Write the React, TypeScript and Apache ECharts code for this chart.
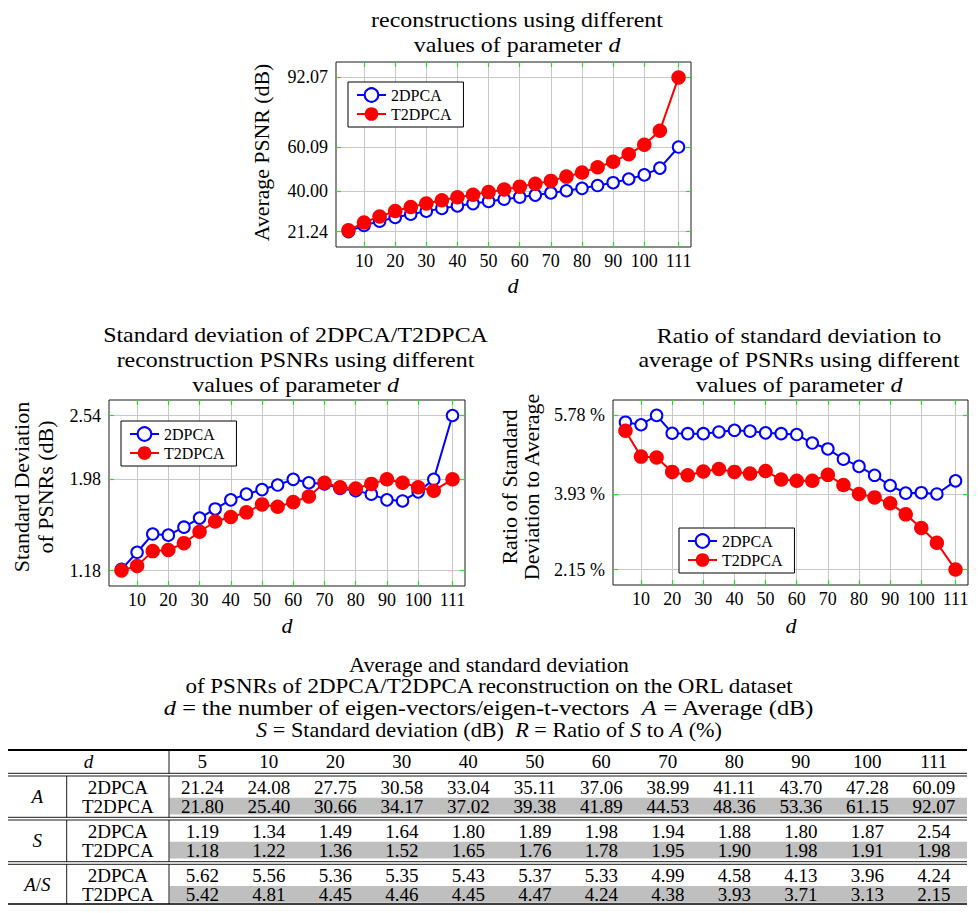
import React, { useEffect, useRef } from 'react';
import * as echarts from 'echarts';

// ---------------- data ----------------
const dValues = [5, 10, 15, 20, 25, 30, 35, 40, 45, 50, 55, 60, 65, 70, 75, 80, 85, 90, 95, 100, 105, 111];
const xTickValues = [10, 20, 30, 40, 50, 60, 70, 80, 90, 100, 111];
const seriesNames = ['2DPCA', 'T2DPCA'];

const avg2DPCA = [21.24, 24.08, 26.0, 27.75, 29.2, 30.58, 31.9, 33.04, 34.1, 35.11, 36.1, 37.06, 38.0, 38.99, 40.0, 41.11, 42.4, 43.70, 45.4, 47.28, 50.4, 60.09];
const avgT2DPCA = [21.80, 25.40, 28.2, 30.66, 32.5, 34.17, 35.6, 37.02, 38.2, 39.38, 40.6, 41.89, 43.2, 44.53, 46.5, 48.36, 50.8, 53.36, 56.8, 61.15, 67.6, 92.07];
const avgTicks = [21.24, 40.0, 60.09, 92.07];

const std2DPCA = [1.19, 1.34, 1.50, 1.49, 1.56, 1.64, 1.72, 1.80, 1.85, 1.89, 1.93, 1.98, 1.95, 1.94, 1.90, 1.88, 1.85, 1.80, 1.79, 1.87, 1.98, 2.54];
const stdT2DPCA = [1.18, 1.22, 1.35, 1.36, 1.42, 1.52, 1.61, 1.65, 1.69, 1.76, 1.74, 1.78, 1.83, 1.95, 1.91, 1.90, 1.94, 1.98, 1.95, 1.91, 1.88, 1.98];
const stdTicks = [1.18, 1.98, 2.54];

const ratio2DPCA = [5.62, 5.56, 5.78, 5.36, 5.35, 5.35, 5.39, 5.43, 5.41, 5.37, 5.35, 5.33, 5.13, 4.99, 4.75, 4.58, 4.37, 4.13, 3.95, 3.96, 3.93, 4.24];
const ratioT2DPCA = [5.42, 4.81, 4.79, 4.45, 4.37, 4.46, 4.52, 4.45, 4.41, 4.47, 4.27, 4.24, 4.24, 4.38, 4.14, 3.93, 3.85, 3.71, 3.45, 3.13, 2.78, 2.15];
const ratioTicks = [2.15, 3.93, 5.78];

const tableD = [5, 10, 20, 30, 40, 50, 60, 70, 80, 90, 100, 111];

const titleAvg = ['reconstructions using different', '{n|values of parameter }{i|d}'];
const titleStd = ['Standard deviation of 2DPCA/T2DPCA', 'reconstruction PSNRs using different', '{n|values of parameter }{i|d}'];
const titleRatio = ['Ratio of standard deviation to', 'average of PSNRs using different', '{n|values of parameter }{i|d}'];
const yNameAvg = 'Average PSNR (dB)';
const yNameStd = 'Standard Deviation\nof PSNRs (dB)';
const yNameRatio = 'Ratio of Standard\nDeviation to Average';
const captionLines = [
  'Average and standard deviation',
  'of PSNRs of 2DPCA/T2DPCA reconstruction on the ORL dataset',
  '{i|d}{n| = the number of eigen-vectors/eigen-t-vectors  }{i|A}{n| = Average (dB)}',
  '{i|S}{n| = Standard deviation (dB)  }{i|R}{n| = Ratio of }{i|S}{n| to }{i|A}{n| (%)}',
];

// ---------------- style ----------------
const FONT = "'Liberation Serif', 'Times New Roman', serif";
const GREEN = '#1ee61e';
const GRIDC = '#c8c8c8';
const BLUE = '#0000ff';
const RED = '#ff0000';
const CAPTION_SCALE = [1.11, 1.15, 1.22, 1.11];

function gText(text: string, x: number, y: number, size: number, o: any = {}) {
  const base = { fontFamily: FONT, fontSize: size, fill: '#000', lineHeight: o.lh };
  return {
    type: 'text',
    x,
    y,
    scaleX: o.sx ?? 1,
    rotation: o.rot ?? 0,
    silent: true,
    z: 10,
    style: {
      text,
      ...base,
      fontStyle: o.italic ? 'italic' : 'normal',
      align: o.align ?? 'center',
      textAlign: o.align ?? 'center',
      verticalAlign: 'middle',
      textVerticalAlign: 'middle',
      rich: {
        n: { ...base },
        i: { ...base, fontStyle: 'italic' },
      },
    },
  };
}

function gLine(x1: number, y1: number, x2: number, y2: number, w: number) {
  return { type: 'line', silent: true, z: 10, shape: { x1, y1, x2, y2 }, style: { stroke: '#000', lineWidth: w } };
}

function buildOption() {
  const panels = [
    { grid: { left: 336, top: 62, width: 355, height: 185 }, s: [avg2DPCA, avgT2DPCA], ticks: avgTicks, unit: '', legend: { left: 348, top: 82 } },
    { grid: { left: 109, top: 400, width: 356, height: 186 }, s: [std2DPCA, stdT2DPCA], ticks: stdTicks, unit: '', legend: { left: 121, top: 421 } },
    { grid: { left: 613, top: 400, width: 355, height: 185 }, s: [ratio2DPCA, ratioT2DPCA], ticks: ratioTicks, unit: ' %', legend: { left: 679, top: 528 } },
  ];

  const grids: any[] = [];
  const xAxes: any[] = [];
  const yAxes: any[] = [];
  const series: any[] = [];
  const legends: any[] = [];

  panels.forEach((p, i) => {
    grids.push({ ...p.grid, show: true, borderColor: '#1a1a1a', borderWidth: 1, backgroundColor: 'transparent', containLabel: false, outerBoundsMode: 'none' });
    const all = [...p.s[0], ...p.s[1]];
    const lo = Math.min(...all);
    const hi = Math.max(...all);
    const pad = 0.1 * (hi - lo);
    const tick = (vals: number[]) => ({ show: true, inside: true, length: 5, customValues: vals, lineStyle: { color: GREEN, width: 1.2 } });
    const xBase = { type: 'value', gridIndex: i, min: 1, max: 115, axisLine: { show: false } };
    xAxes.push({
      ...xBase, position: 'bottom', axisTick: tick(xTickValues),
      axisLabel: { customValues: xTickValues, margin: 5, color: '#000', fontFamily: FONT, fontSize: 18 },
      splitLine: { show: true, lineStyle: { color: GRIDC, width: 1 } },
    });
    xAxes.push({ ...xBase, position: 'top', axisTick: tick(xTickValues), axisLabel: { show: false }, splitLine: { show: false } });
    const yBase = { type: 'value', gridIndex: i, min: lo - pad, max: hi + pad, axisLine: { show: false } };
    yAxes.push({
      ...yBase, position: 'left', axisTick: tick(p.ticks),
      axisLabel: { customValues: p.ticks, margin: 8, color: '#000', fontFamily: FONT, fontSize: 18, formatter: (v: number) => v.toFixed(2) + p.unit },
      splitLine: { show: true, lineStyle: { color: GRIDC, width: 1 } },
    });
    yAxes.push({ ...yBase, position: 'right', axisTick: tick(p.ticks), axisLabel: { show: false }, splitLine: { show: false } });

    p.s.forEach((vals, k) => {
      const blue = k === 0;
      series.push({
        type: 'line',
        name: seriesNames[k],
        xAxisIndex: 2 * i,
        yAxisIndex: 2 * i,
        data: dValues.map((d, j) => [d, vals[j]]),
        symbol: blue ? 'emptyCircle' : 'circle',
        symbolSize: blue ? 11.5 : 14.5,
        showSymbol: true,
        clip: false,
        lineStyle: { color: blue ? BLUE : RED, width: 2 },
        itemStyle: blue ? { color: BLUE, borderColor: BLUE, borderWidth: 2.2 } : { color: RED, borderWidth: 0 },
        emphasis: { disabled: true },
      });
    });

    legends.push({
      ...p.legend,
      orient: 'vertical',
      data: seriesNames,
      selectedMode: false,
      itemWidth: 29,
      itemHeight: 17,
      itemGap: 3,
      padding: [5, 12, 5, 8],
      backgroundColor: '#fff',
      borderColor: '#000',
      borderWidth: 1,
      borderRadius: 0,
      textStyle: { fontFamily: FONT, fontSize: 16, color: '#000' },
    });
  });

  // ----- graphic texts -----
  const g: any[] = [];
  const TS = 21;
  const SX = 1.14;
  titleAvg.forEach((t, k) => g.push(gText(t, 517, 20.5 + k * 24.5, TS, { sx: SX })));
  titleStd.forEach((t, k) => g.push(gText(t, 295.5, 335 + k * 25, TS, { sx: SX })));
  titleRatio.forEach((t, k) => g.push(gText(t, 799, 336 + k * 24.5, TS, { sx: SX })));

  g.push(gText('{i|d}', 513, 285, 22));
  g.push(gText('{i|d}', 287, 625, 22));
  g.push(gText('{i|d}', 791, 625, 22));

  g.push(gText(yNameAvg, 262, 152.5, 20, { sx: 1.09, rot: Math.PI / 2 }));
  g.push(gText(yNameStd, 34, 487, 20, { sx: 1.1, rot: Math.PI / 2, lh: 24 }));
  g.push(gText(yNameRatio, 521, 487, 20, { sx: 1.1, rot: Math.PI / 2, lh: 22 }));

  captionLines.forEach((t, k) => g.push(gText(t, 489, 665 + k * 21.7, 20, { sx: CAPTION_SCALE[k] })));

  // ----- table -----
  const L = 8, R = 967, C0 = 66.7, C1 = 169;
  const colW = (R - C1) / tableD.length;
  const colX = (j: number) => C1 + colW * (j + 0.5);
  const TF = 19;
  const groups = [
    { label: '{i|A}', data: [avg2DPCA, avgT2DPCA], top: 776 },
    { label: '{i|S}', data: [std2DPCA, stdT2DPCA], top: 820 },
    { label: '{i|A}{n|/}{i|S}', data: [ratio2DPCA, ratioT2DPCA], top: 864.3 },
  ];
  groups.forEach((gr) => {
    g.push({ type: 'rect', silent: true, z: 9, shape: { x: C1 + 0.5, y: gr.top + 21.7, width: R - C1 - 0.5, height: 16.8 }, style: { fill: '#bfbfbf' } });
  });
  g.push(gLine(L, 750, R, 750, 1.8));
  [773.3, 776, 817.3, 820, 861.7, 864.3].forEach((y) => g.push(gLine(L, y, R, y, 0.9)));
  g.push(gLine(L, 904, R, 904, 1.6));
  g.push(gLine(C1, 750, C1, 773.3, 0.9));
  [[776, 817.3], [820, 861.7], [864.3, 904]].forEach(([a, b]) => {
    g.push(gLine(C1, a, C1, b, 0.9));
    g.push(gLine(C0, a, C0, b, 0.9));
  });
  g.push(gText('{i|d}', (L + C1) / 2, 761.7, TF));
  tableD.forEach((d, j) => g.push(gText(String(d), colX(j), 761.7, TF)));
  groups.forEach((gr) => {
    g.push(gText(gr.label, (L + C0) / 2, gr.top + 20, TF));
    gr.data.forEach((arr, k) => {
      const y = gr.top + (k === 0 ? 11 : 30);
      g.push(gText(seriesNames[k], (C0 + C1) / 2, y, TF));
      tableD.forEach((d, j) => {
        const idx = dValues.indexOf(d);
        g.push(gText(arr[idx].toFixed(2), colX(j), y, TF));
      });
    });
  });

  return {
    animation: false,
    grid: grids,
    xAxis: xAxes,
    yAxis: yAxes,
    series,
    legend: legends,
    graphic: { elements: g },
  };
}

export default function App() {
  const ref = useRef<HTMLDivElement>(null);
  useEffect(() => {
    const chart = echarts.init(ref.current as HTMLDivElement, undefined, { renderer: 'svg' });
    chart.setOption(buildOption() as any);
    return () => chart.dispose();
  }, []);
  return <div ref={ref} style={{ position: 'absolute', left: 0, top: 0, width: 978, height: 913, background: '#fff' }} />;
}
